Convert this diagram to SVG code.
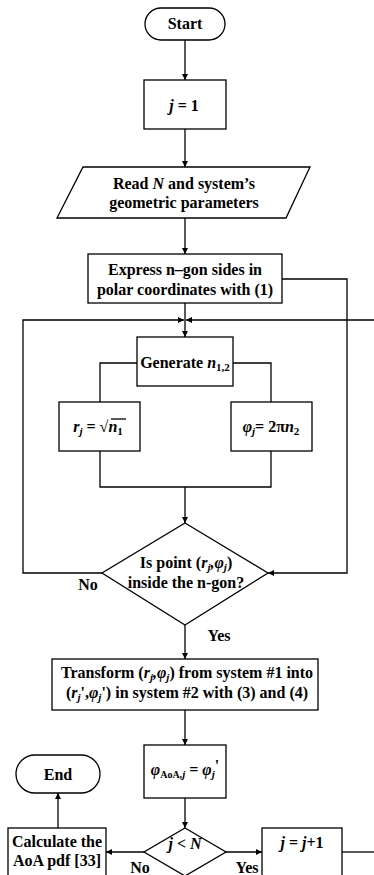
<svg xmlns="http://www.w3.org/2000/svg" width="374" height="875" viewBox="0 0 374 875">
<style>
.s{fill:#fff;stroke:#000;stroke-width:1.3}
.c{fill:none;stroke:#000;stroke-width:1.3}
.t{font-family:"Liberation Serif","Times New Roman",serif;font-weight:bold;font-size:16px;fill:#000;text-anchor:middle}
.i{font-style:italic}
.b{font-size:11px}
</style>
<defs>
<marker id="a" viewBox="0 0 10 10" refX="10" refY="5" markerWidth="6" markerHeight="6" markerUnits="userSpaceOnUse" orient="auto">
<path d="M0,0 L10,5 L0,10 z" fill="#000"/>
</marker>
</defs>
<g id="connectors">
<path class="c" d="M185,40 V80" marker-end="url(#a)"/>
<path class="c" d="M185,129 V167" marker-end="url(#a)"/>
<path class="c" d="M185,218 V254" marker-end="url(#a)"/>
<path class="c" d="M185,303 V337" marker-end="url(#a)"/>
<path class="c" d="M137,363 H100 V402"/>
<path class="c" d="M233,363 H271 V402"/>
<path class="c" d="M100,451 V487 H271 V451"/>
<path class="c" d="M185,487 V523" marker-end="url(#a)"/>
<path class="c" d="M102,573 H23 V320 H184" marker-end="url(#a)"/>
<path class="c" d="M374,320 H186" marker-end="url(#a)"/>
<path class="c" d="M282,279 H347 V573 H268" marker-end="url(#a)"/>
<path class="c" d="M185,625 V659" marker-end="url(#a)"/>
<path class="c" d="M185,710 V745" marker-end="url(#a)"/>
<path class="c" d="M185,798 V828" marker-end="url(#a)"/>
<path class="c" d="M144,852 H106" marker-end="url(#a)"/>
<path class="c" d="M226,852 H262" marker-end="url(#a)"/>
<path class="c" d="M342,852 H374"/>
<path class="c" d="M58,828 V793" marker-end="url(#a)"/>
<text class="t" x="88" y="590">No</text>
<text class="t" x="219" y="641">Yes</text>
<text class="t" x="140" y="873">No</text>
<text class="t" x="247" y="873">Yes</text>
</g>
<g id="start">
<rect class="s" x="145" y="8" width="80" height="32" rx="16"/>
<text class="t" x="185" y="29" font-size="17">Start</text>
</g>
<g id="j1">
<rect class="s" x="144" y="80" width="82" height="49"/>
<text class="t" x="184" y="111" font-size="18"><tspan class="i">j</tspan> = 1</text>
</g>
<g id="read">
<path class="s" d="M83,167 H310 L286,218 H57 Z"/>
<text class="t" x="184" y="189">Read <tspan class="i">N</tspan> and system’s</text>
<text class="t" x="184" y="208">geometric parameters</text>
</g>
<g id="express">
<rect class="s" x="88" y="254" width="194" height="49"/>
<text class="t" x="185" y="275">Express n–gon sides in</text>
<text class="t" x="185" y="295">polar coordinates with (1)</text>
</g>
<g id="generate">
<rect class="s" x="137" y="337" width="96" height="49"/>
<text class="t" x="185" y="368">Generate <tspan class="i">n</tspan><tspan class="b" dy="3">1,2</tspan></text>
</g>
<g id="rj">
<rect class="s" x="59" y="402" width="81" height="49"/>
<text class="t" x="98" y="432"><tspan class="i">r</tspan><tspan class="i b" dy="3">j</tspan><tspan dy="-3"> = √</tspan><tspan class="i">n</tspan><tspan class="b" dy="3">1</tspan></text>
<path class="c" d="M111,419 H126" stroke-width="1"/>
</g>
<g id="phij">
<rect class="s" x="231" y="402" width="81" height="49"/>
<text class="t" x="271" y="432"><tspan class="i">φ</tspan><tspan class="i b" dy="3">j</tspan><tspan dy="-3">= 2π</tspan><tspan class="i">n</tspan><tspan class="b" dy="3">2</tspan></text>
</g>
<g id="inside">
<path class="s" d="M185,523 L268,573 L185,625 L102,573 Z"/>
<text class="t" x="186" y="568">Is point (<tspan class="i">r</tspan><tspan class="i b" dy="3">j</tspan><tspan class="i" dy="-3">,φ</tspan><tspan class="i b" dy="3">j</tspan><tspan dy="-3">)</tspan></text>
<text class="t" x="186" y="588">inside the n-gon?</text>
</g>
<g id="transform">
<rect class="s" x="52" y="659" width="266" height="51"/>
<text class="t" x="187" y="678" font-size="14.5">Transform (<tspan class="i">r</tspan><tspan class="i b" dy="3">j</tspan><tspan class="i" dy="-3">,φ</tspan><tspan class="i b" dy="3">j</tspan><tspan dy="-3">) from system #1 into</tspan></text>
<text class="t" x="187" y="698" font-size="14.5">(<tspan class="i">r</tspan><tspan class="i b" dy="3">j</tspan><tspan dy="-3">',</tspan><tspan class="i">φ</tspan><tspan class="i b" dy="3">j</tspan><tspan dy="-3">') in system  #2 with (3) and (4)</tspan></text>
</g>
<g id="phiaoa">
<rect class="s" x="144" y="745" width="82" height="53"/>
<text class="t" x="185" y="775"><tspan class="i">φ</tspan><tspan font-size="10" dy="3">AoA,</tspan><tspan class="i b">j</tspan><tspan dy="-3"> = </tspan><tspan class="i">φ</tspan><tspan class="i b" dy="3">j</tspan><tspan dy="-7">'</tspan></text>
</g>
<g id="end">
<rect class="s" x="16" y="755" width="84" height="38" rx="19"/>
<text class="t" x="58" y="780" font-size="17">End</text>
</g>
<g id="calc">
<rect class="s" x="8" y="828" width="98" height="60"/>
<text class="t" x="57" y="847">Calculate the</text>
<text class="t" x="57" y="866">AoA pdf [33]</text>
</g>
<g id="jlessN">
<path class="s" d="M185,828 L226,852 L185,876 L144,852 Z"/>
<text class="t" x="185" y="849"><tspan class="i">j</tspan> &lt; <tspan class="i">N</tspan></text>
</g>
<g id="jinc">
<rect class="s" x="262" y="828" width="80" height="60"/>
<text class="t" x="302" y="848"><tspan class="i">j</tspan> = <tspan class="i">j</tspan>+1</text>
</g>
</svg>
